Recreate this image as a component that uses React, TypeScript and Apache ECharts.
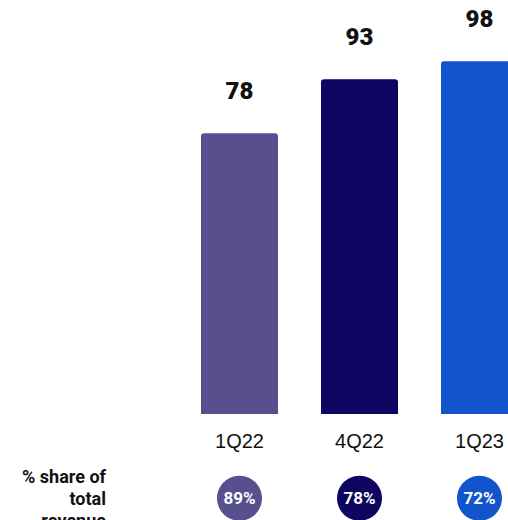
import React, { useEffect, useRef } from "react";
import * as echarts from "echarts";

const categories = ["1Q22", "4Q22", "1Q23"];
const values = [78, 93, 98];
const shares = [89, 78, 72];
const colors = ["#574f8e", "#0e0560", "#1254cc"];
const shareTitle = "% share of\ntotal\nrevenue";

export default function App() {
  const ref = useRef<HTMLDivElement>(null);
  useEffect(() => {
    if (!ref.current) return;
    const chart = echarts.init(ref.current, undefined, { renderer: "svg" });
    chart.setOption({
      animation: false,
      backgroundColor: "#ffffff",
      grid: [
        { left: 179.5, top: 54, width: 360, height: 360 },
        { left: 179.5, top: 476.5, width: 360, height: 45 },
      ],
      xAxis: [
        {
          type: "category",
          gridIndex: 0,
          data: categories,
          axisLine: { show: false },
          axisTick: { show: false },
          axisLabel: {
            margin: 17,
            fontSize: 20,
            color: "#111111",
            fontFamily: "Liberation Sans",
          },
        },
        {
          type: "category",
          gridIndex: 1,
          data: categories,
          show: false,
        },
      ],
      yAxis: [
        { type: "value", gridIndex: 0, min: 0, max: 100, show: false },
        { type: "value", gridIndex: 1, min: 0, max: 1, show: false },
      ],
      series: [
        {
          type: "bar",
          xAxisIndex: 0,
          yAxisIndex: 0,
          barWidth: 77,
          data: values.map((v, i) => ({
            value: v,
            itemStyle: { color: colors[i], borderRadius: [3, 3, 0, 0] },
          })),
          label: {
            show: true,
            position: "top",
            distance: 30,
            fontSize: 24,
            fontWeight: 900,
            fontFamily: "Roboto",
            color: "#111111",
            textBorderColor: "#ffffff",
            textBorderWidth: 3,
          },
        },
        {
          type: "scatter",
          xAxisIndex: 1,
          yAxisIndex: 1,
          symbol: "circle",
          symbolSize: 45,
          data: shares.map((v, i) => ({
            value: [categories[i], 0.5],
            itemStyle: { color: colors[i], opacity: 1 },
          })),
          label: {
            show: true,
            position: "inside",
            formatter: (p: any) => `${shares[p.dataIndex]}%`,
            fontSize: 17,
            fontWeight: "bold",
            fontFamily: "Roboto",
            color: "#ffffff",
          },
        },
      ],
      graphic: [
        {
          type: "text",
          x: 106,
          y: 465,
          style: {
            text: shareTitle,
            align: "right",
            verticalAlign: "top",
            fontSize: 18,
            lineHeight: 22,
            fontWeight: "bold",
            fontFamily: "Roboto",
            fill: "#111111",
          },
        },
      ],
    });
    return () => chart.dispose();
  }, []);
  return (
    <div
      style={{
        position: "fixed",
        left: 0,
        top: 0,
        width: 508,
        height: 520,
        overflow: "hidden",
        background: "#ffffff",
      }}
    >
      <div ref={ref} style={{ width: 560, height: 520 }} />
    </div>
  );
}
